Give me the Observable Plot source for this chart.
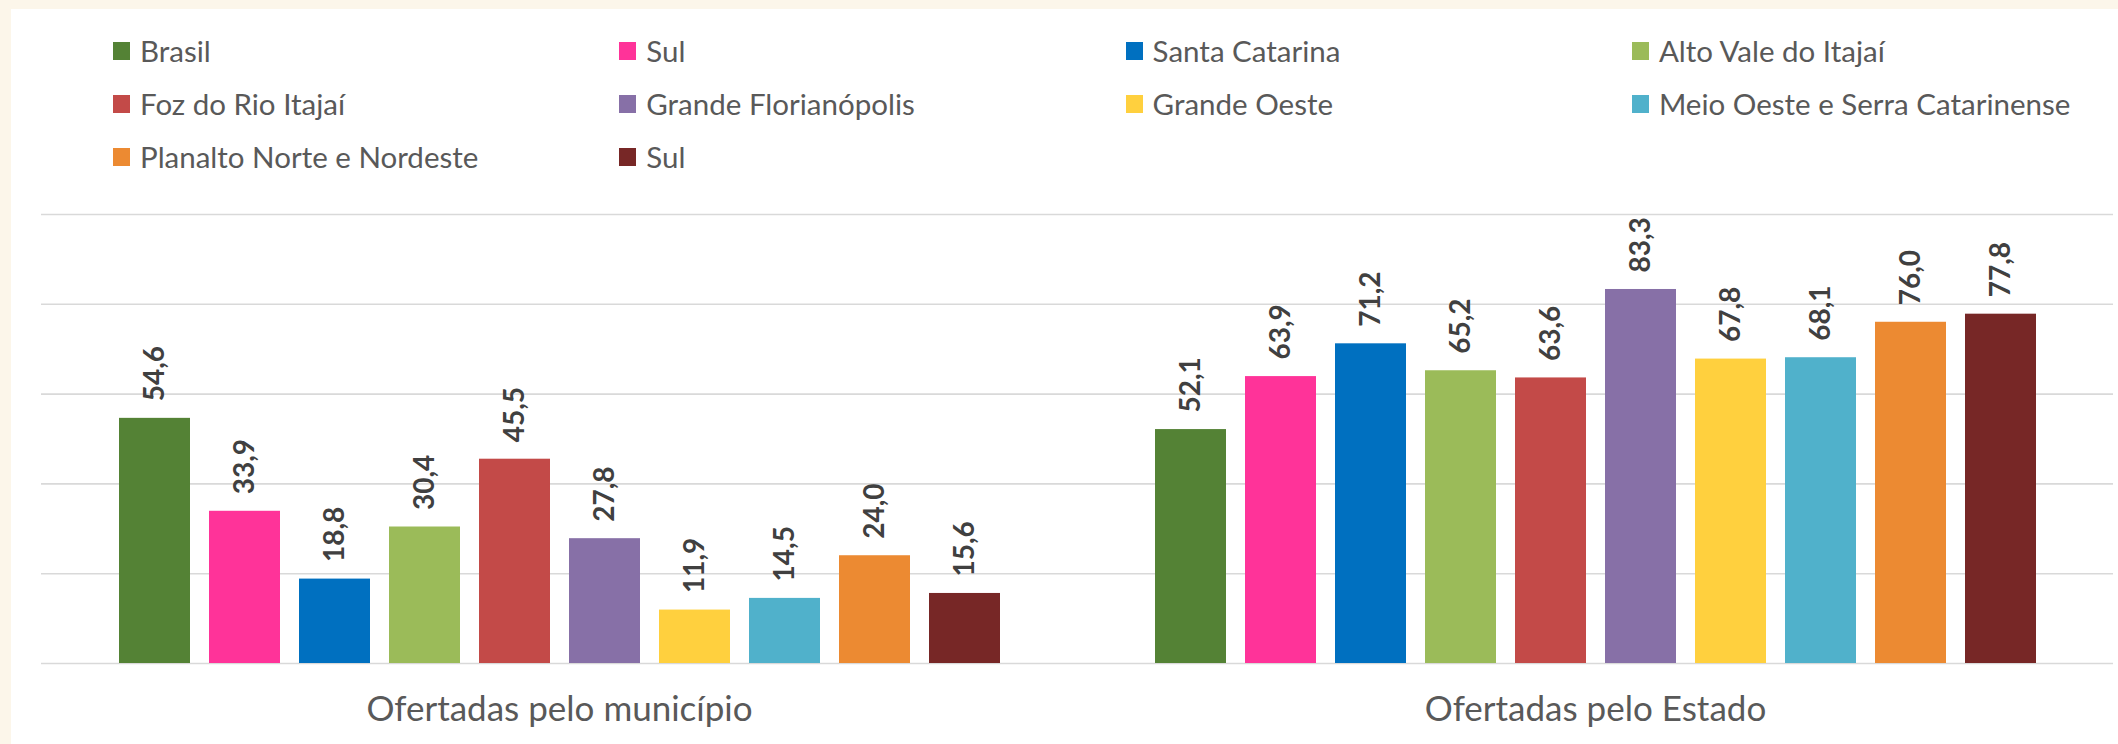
<!DOCTYPE html>
<html>
<head>
<meta charset="utf-8">
<script src="https://cdn.jsdelivr.net/npm/d3@7"></script>
<script src="https://cdn.jsdelivr.net/npm/@observablehq/plot@0.6"></script>
<style>
  html, body { margin: 0; padding: 0; }
  body { width: 2118px; height: 744px; background: #fcf6ea; position: relative; overflow: hidden; font-family: Lato, "Noto Sans", sans-serif; }
  #panel { position: absolute; left: 11px; top: 9px; width: 2107px; height: 735px; background: #ffffff; }
  #legend { position: absolute; left: 113px; top: 24px; display: grid; grid-template-columns: repeat(4, 506.3px); grid-auto-rows: 53px; }
  .item { display: flex; align-items: center; font-size: 29.5px; color: #595959; white-space: nowrap; }
  .sw { width: 17px; height: 18px; margin-right: 10px; flex: none; }
  #chart { position: absolute; left: 0; top: 185px; }
</style>
</head>
<body>
<div id="panel"></div>
<div id="legend"></div>
<div id="chart"></div>
<script>
// ---- data ----
const groups = ["Ofertadas pelo município", "Ofertadas pelo Estado"];
const seriesNames = ["Brasil", "Sul", "Santa Catarina", "Alto Vale do Itajaí", "Foz do Rio Itajaí",
  "Grande Florianópolis", "Grande Oeste", "Meio Oeste e Serra Catarinense", "Planalto Norte e Nordeste", "Sul"];
const seriesColors = ["#548235", "#ff3399", "#0070c0", "#9bbb59", "#c34a48",
  "#8770a7", "#ffd03e", "#50b1cb", "#ec8a32", "#772726"];
const valuesMunicipio = [54.6, 33.9, 18.8, 30.4, 45.5, 27.8, 11.9, 14.5, 24.0, 15.6];
const valuesEstado = [52.1, 63.9, 71.2, 65.2, 63.6, 83.3, 67.8, 68.1, 76.0, 77.8];
const yTicks = [0, 20, 40, 60, 80, 100];

// unique series keys (two series share the name "Sul")
const seriesKeys = seriesNames.map((n, i) => i + ":" + n);
const table = [];
[valuesMunicipio, valuesEstado].forEach((vals, g) => {
  vals.forEach((v, i) => table.push({group: groups[g], key: seriesKeys[i], value: v}));
});
const fmt = v => v.toFixed(1).replace(".", ",");

// legend
const legend = document.getElementById("legend");
seriesNames.forEach((n, i) => {
  const it = document.createElement("div");
  it.className = "item";
  const sw = document.createElement("span");
  sw.className = "sw";
  sw.style.background = seriesColors[i];
  it.appendChild(sw);
  it.appendChild(document.createTextNode(n));
  legend.appendChild(it);
});

const chart = Plot.plot({
  width: 2118,
  height: 559,
  marginLeft: 40,
  marginRight: 5,
  marginTop: 29,
  marginBottom: 81,
  style: {background: "none", overflow: "visible", fontFamily: "Lato, sans-serif"},
  fx: {domain: groups, padding: 0, axis: null},
  x: {domain: seriesKeys, paddingInner: 0.212, paddingOuter: 0.858, axis: null},
  y: {domain: [0, 100], axis: null},
  color: {domain: seriesKeys, range: seriesColors},
  marks: [
    Plot.ruleY(yTicks, {stroke: "#d9d9d9", strokeWidth: 1.6}),
    Plot.barY(table, {fx: "group", x: "key", y: "value", fill: "key"}),
    Plot.text(table, {fx: "group", x: "key", y: "value", text: d => fmt(d.value), rotate: -90,
      textAnchor: "start", lineAnchor: "middle", dy: -17, fontSize: 28, fontWeight: "bold", fill: "#404040"}),
    Plot.text(groups, {fx: d => d, text: d => d, frameAnchor: "bottom", dy: 57, fontSize: 35, fill: "#595959"})
  ]
});
document.getElementById("chart").appendChild(chart);
</script>
</body>
</html>
